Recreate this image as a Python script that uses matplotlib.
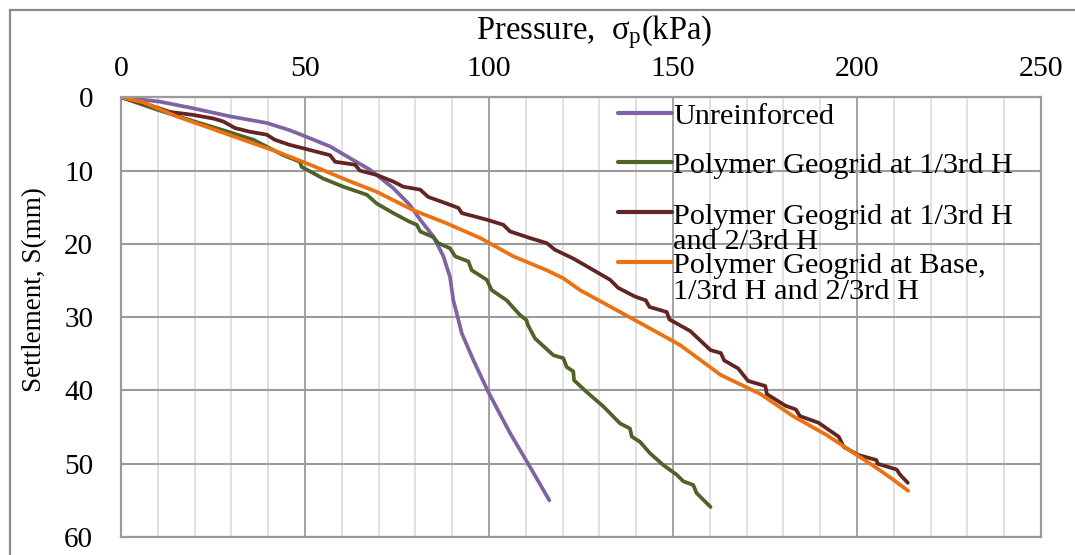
import matplotlib
matplotlib.use("Agg")
import matplotlib.pyplot as plt
from matplotlib.lines import Line2D
import numpy as np

plt.rcParams['font.family'] = ['Liberation Serif', 'DejaVu Serif']
plt.rcParams['mathtext.fontset'] = 'custom'
plt.rcParams['mathtext.rm'] = 'Liberation Serif'
plt.rcParams['mathtext.it'] = 'Liberation Serif:italic'

# ---------------- data ----------------
labels = ["Unreinforced",
          "Polymer Geogrid at 1/3rd H",
          "Polymer Geogrid at 1/3rd H\nand 2/3rd H",
          "Polymer Geogrid at Base,\n1/3rd H and 2/3rd H"]
colors = ["#8064A2", "#4F6228", "#632523", "#EC7211"]

unr_p = [0, 10.6, 19.6, 29.6, 39.6, 45.9, 51.4, 56.8, 62.2, 67.7, 74.0, 78.5,
         81.3, 84.9, 87.6, 89.4, 90.3, 91.4, 92.6, 95.7, 99.8, 105.7, 111.1, 116.4]
unr_s = [0, 0.6, 1.5, 2.6, 3.5, 4.5, 5.6, 6.7, 8.3, 9.9, 12.4, 14.7,
         16.7, 19.0, 21.7, 24.5, 27.7, 29.8, 32.2, 35.8, 40.2, 45.8, 50.4, 55.0]

g1_p = [0, 9.3, 18.0, 27.8, 36.0, 44.1, 48.6, 49.1, 55.0, 60.4, 66.8, 69.5,
        74.0, 78.5, 80.4, 81.3, 84.9, 86.2, 89.4, 90.8, 94.4, 95.3, 99.4, 100.7,
        104.8, 108.4, 110.2, 110.5, 112.5, 117.5, 120.2, 121.1, 122.9, 123.1,
        126.5, 131.1, 135.6, 138.3, 138.8, 141.0, 143.8, 147.4, 151.0, 152.8,
        155.5, 156.4, 160.2]
g1_s = [0, 1.6, 3.0, 4.5, 5.8, 7.9, 8.8, 9.5, 11.1, 12.2, 13.3, 14.5,
        15.8, 17.0, 17.4, 18.3, 19.1, 19.9, 20.6, 21.7, 22.4, 23.6, 24.9, 26.3,
        27.7, 29.7, 30.4, 31.0, 32.9, 35.2, 35.6, 36.8, 37.4, 38.6,
        40.2, 42.2, 44.5, 45.2, 46.3, 47.0, 48.6, 50.2, 51.5, 52.4,
        52.9, 54.0, 55.9]

g2_p = [0, 6.1, 13.3, 19.6, 25.1, 27.8, 31.0, 35.0, 39.6, 41.8, 45.9, 51.4,
        56.8, 58.2, 63.6, 64.9, 69.5, 74.0, 76.7, 81.3, 83.5, 88.5, 91.7, 92.6,
        99.4, 103.9, 105.7, 111.1, 115.7, 117.9, 122.9, 127.4, 132.9, 135.1,
        139.7, 142.6, 143.6, 148.3, 149.0, 154.7, 160.2, 163.0, 163.9, 167.7,
        170.4, 175.1, 175.5, 180.6, 183.4, 184.5, 189.5, 195.0, 196.4, 200.3,
        205.3, 205.6, 210.8, 211.7, 213.8]
g2_s = [0, 0.8, 2.0, 2.4, 2.9, 3.3, 4.2, 4.7, 5.1, 5.8, 6.5, 7.2,
        7.9, 8.8, 9.2, 10.0, 10.6, 11.5, 12.2, 12.6, 13.6, 14.5, 15.1, 15.8,
        16.7, 17.4, 18.3, 19.2, 19.9, 20.8, 22.0, 23.3, 24.9, 26.0,
        27.2, 27.7, 28.6, 29.3, 30.3, 31.9, 34.5, 34.9, 35.9, 37.0,
        38.7, 39.4, 40.5, 42.1, 42.6, 43.5, 44.4, 46.3, 47.7, 48.8,
        49.5, 50.0, 50.8, 51.5, 52.6]

g3_p = [0, 6.1, 15.1, 24.2, 33.2, 42.3, 51.4, 60.4, 69.5, 79.4, 88.5, 97.6,
        106.6, 115.7, 120.2, 124.7, 133.8, 142.9, 151.9, 163.0, 173.8, 182.6,
        191.8, 199.9, 205.4, 209.9, 213.9]
g3_s = [0, 0.7, 2.6, 4.2, 5.8, 7.4, 9.2, 11.1, 12.9, 15.4, 17.2, 19.2,
        21.7, 23.6, 24.7, 26.3, 28.8, 31.3, 33.8, 37.9, 40.5, 43.5,
        46.1, 48.8, 50.6, 52.2, 53.7]

series_p = [unr_p, g1_p, g2_p, g3_p]
series_s = [unr_s, g1_s, g2_s, g3_s]

x_ticks = [0, 50, 100, 150, 200, 250]
y_ticks = [0, 10, 20, 30, 40, 50, 60]

# ---------------- figure ----------------
W, H = 1075, 555
fig = plt.figure(figsize=(W / 100, H / 100), dpi=100)
L, R, T, B = 121, 1041, 97.3, 537
ax = fig.add_axes([L / W, 1 - B / H, (R - L) / W, (B - T) / H])

major_c = "#9b9b9b"
minor_c = "#d9d9d9"

ax.set_xlim(0, 250)
ax.set_ylim(60, 0)
ax.xaxis.tick_top()
ax.xaxis.set_label_position('top')
ax.set_xticks(x_ticks)
ax.set_xticks(np.arange(0, 251, 10), minor=True)
ax.set_yticks(y_ticks)
ax.tick_params(axis='both', which='both', length=0)
ax.tick_params(axis='x', pad=11, labelsize=21.5)
ax.tick_params(axis='y', pad=20, labelsize=21)

ax.grid(which='minor', axis='x', color=minor_c, lw=1.1)
ax.grid(which='major', axis='x', color=major_c, lw=1.3)
ax.grid(which='major', axis='y', color=major_c, lw=1.5)
ax.set_axisbelow(True)
for sp in ax.spines.values():
    sp.set_color(major_c)
    sp.set_linewidth(1.6)

for p, s, c, lab in zip(series_p, series_s, colors, labels):
    ax.plot(p, s, color=c, lw=2.7, solid_capstyle='round',
            solid_joinstyle='round', label=lab)

ax.set_xlabel(r'Pressure,  $\mathrm{\sigma_{p}}$(kPa)', fontsize=23.5, va='center')
ax.xaxis.set_label_coords((594 - L) / (R - L), 1 + (T - 32) / (B - T))
ax.set_ylabel('Settlement, S(mm)', fontsize=19.5, va='center', ha='center')
ax.yaxis.set_label_coords((34.5 - L) / (R - L), 1 - (290 - T) / (B - T))


# manual legend (no frame), handle at first text line
def ax_x(px):
    return (px - L) / (R - L)


def ax_y(py):
    return 1 - (py - T) / (B - T)


leg_y = [112.7, 161.7, 212.3, 261.7]
line_gap = 25.5
for c, lab, yy in zip(colors, labels, leg_y):
    ax.add_line(Line2D([ax_x(617.5), ax_x(671.5)], [ax_y(yy), ax_y(yy)],
                       transform=ax.transAxes, color=c, lw=3.0,
                       solid_capstyle='round', clip_on=False))
    for k, part in enumerate(lab.split("\n")):
        ax.text(ax_x(673), ax_y(yy + 1.5 + k * line_gap), part,
                transform=ax.transAxes, fontsize=21.8,
                ha='left', va='center_baseline', color='black')

# outer chart border (top and left visible)
fig.add_artist(Line2D([10 / W, 1.0], [1 - 10 / H, 1 - 10 / H], color="#8a8a8a",
                      lw=1.6, transform=fig.transFigure))
fig.add_artist(Line2D([10 / W, 10 / W], [0, 1 - 10 / H], color="#8a8a8a",
                      lw=1.6, transform=fig.transFigure))

fig.savefig("out.png", dpi=100, facecolor='white')
